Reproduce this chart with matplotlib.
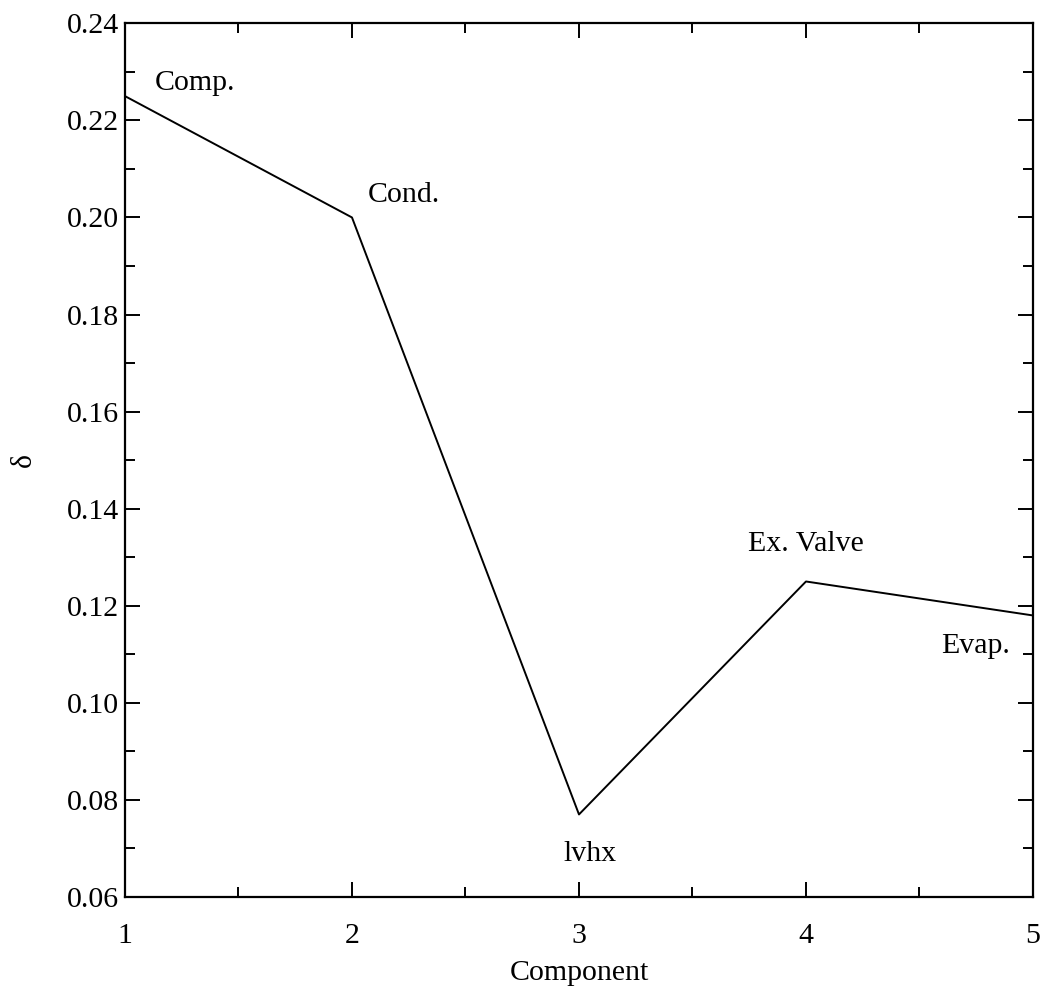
import matplotlib
matplotlib.use('Agg')
import matplotlib.pyplot as plt
from matplotlib.ticker import MultipleLocator

plt.rcParams['font.family'] = ['Liberation Serif', 'DejaVu Serif']

# data
component = [1, 2, 3, 4, 5]
delta = [0.225, 0.200, 0.077, 0.125, 0.118]
names = ['Comp.', 'Cond.', 'lvhx', 'Ex. Valve', 'Evap.']
# where each name sits (data coords, left/baseline)
name_x = [1.13, 2.07, 2.93, 3.745, 4.595]
name_y = [0.2262, 0.2032, 0.0675, 0.1312, 0.1102]

fs = 21.5

fig = plt.figure(figsize=(10.45, 9.92), dpi=100)
ax = fig.add_axes([0.1196, 0.0958, 0.8689, 0.8807])

ax.plot(component, delta, color='black', linewidth=1.4)

for n, x, y in zip(names, name_x, name_y):
    ax.text(x, y, n, fontsize=fs, ha='left', va='baseline')

ax.set_xlim(1, 5)
ax.set_ylim(0.06, 0.24)
ax.xaxis.set_major_locator(MultipleLocator(1))
ax.xaxis.set_minor_locator(MultipleLocator(0.5))
ax.yaxis.set_major_locator(MultipleLocator(0.02))
ax.yaxis.set_minor_locator(MultipleLocator(0.01))
ax.yaxis.set_major_formatter(plt.FormatStrFormatter('%.2f'))

ax.tick_params(which='both', direction='in', top=True, right=True,
               width=1.4, labelsize=fs)
ax.tick_params(which='major', length=10.5)
ax.tick_params(which='minor', length=7)
ax.tick_params(axis='x', which='major', pad=19)
ax.tick_params(axis='y', which='major', pad=4)
for s in ax.spines.values():
    s.set_linewidth(1.6)

ax.set_xlabel('Component', fontsize=fs)
ax.set_ylabel('δ', fontsize=fs)
ax.xaxis.set_label_coords(0.5, -0.072)
ax.yaxis.set_label_coords(-0.097, 0.5)

fig.savefig('out.png', dpi=100)
